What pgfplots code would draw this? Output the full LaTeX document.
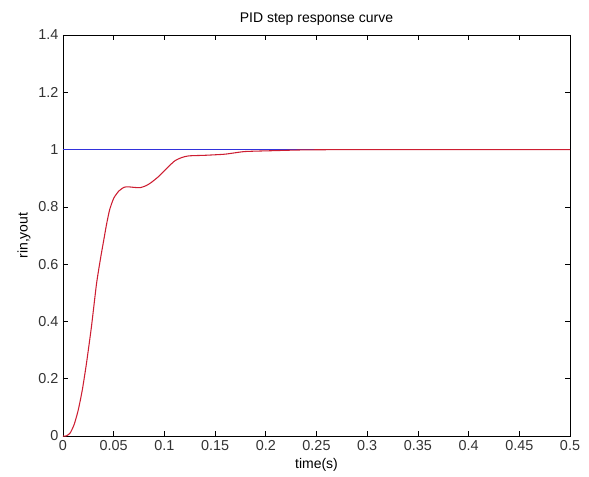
\documentclass[border=0pt]{standalone}
\usepackage{pgfplots}
\pgfplotsset{compat=1.18}
\usepackage{fontspec}
\setmainfont{Liberation Sans}
\definecolor{rinblue}{RGB}{50,50,220}
\definecolor{youtred}{RGB}{205,30,50}
\begin{document}
\begin{tikzpicture}[x=0.75pt,y=0.75pt]
\useasboundingbox (-63,-41) rectangle (526,436);
\begin{axis}[
    at={(0,0)}, anchor=south west,
    scale only axis,
    width=380.25pt, height=300.75pt,
    xmin=0, xmax=0.5,
    ymin=0, ymax=1.4,
    xtick={0,0.05,...,0.5},
    ytick={0,0.2,...,1.4},
    xticklabels={0,0.05,0.1,0.15,0.2,0.25,0.3,0.35,0.4,0.45,0.5},
    yticklabels={0,0.2,0.4,0.6,0.8,1,1.2,1.4},
    tick align=inside,
    major tick length=3.75pt,
    title={PID step response curve},
    xlabel={time(s)},
    ylabel={rin,yout},
    every tick label/.append style={font=\fontsize{10.8}{12}\selectfont, text=black!80},
    label style={font=\fontsize{10.5}{12}\selectfont},
    title style={font=\fontsize{10.5}{12}\selectfont, yshift=-2pt},
    xlabel style={yshift=1pt},
    ylabel style={yshift=-1pt},
    axis line style={black, line width=0.5pt},
    tick style={black, line width=0.5pt},
    clip=false,
    ]
  % rin
  \addplot[draw=rinblue, line width=1.1pt] coordinates {(0,1) (0.5,1)};
  % yout
  \addplot[draw=youtred, line width=0.8pt, smooth, tension=0.35] coordinates {
    (0,0) (0.003,0) (0.007,0.01) (0.011,0.04) (0.015,0.09) (0.019,0.16)
    (0.023,0.25) (0.028,0.38) (0.033,0.53) (0.037,0.62) (0.040,0.68)
    (0.043,0.74) (0.046,0.79) (0.050,0.83) (0.055,0.855) (0.060,0.868)
    (0.064,0.870) (0.070,0.868) (0.076,0.867) (0.082,0.874) (0.087,0.885)
    (0.094,0.905) (0.101,0.930) (0.110,0.960) (0.117,0.972) (0.124,0.978)
    (0.140,0.980) (0.160,0.984) (0.179,0.993) (0.206,0.996) (0.240,0.999)
    (0.300,1.0) (0.400,1.0) (0.500,1.0)
  };
\end{axis}
\end{tikzpicture}
\end{document}
